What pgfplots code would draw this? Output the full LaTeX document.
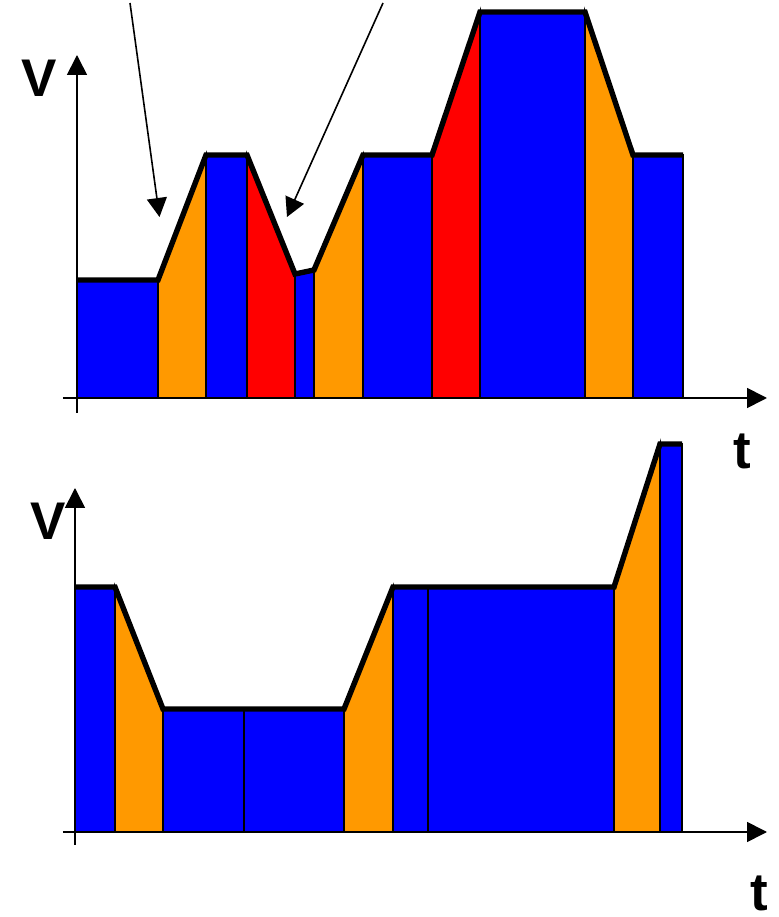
\documentclass[border=0pt]{standalone}
\usepackage{fontspec}
\setmainfont{Liberation Sans}
\usepackage{pgfplots}
\pgfplotsset{compat=1.18}
\usetikzlibrary{arrows.meta}

\definecolor{segblue}{RGB}{0,0,255}
\definecolor{segorange}{RGB}{255,153,0}
\definecolor{segred}{RGB}{255,0,0}

\pgfplotsset{
  profile/.style={
    x=0.5pt, y=0.5pt, anchor=south west,
    axis lines=middle, enlargelimits=false, clip=false,
    xtick=\empty, ytick=\empty,
    axis line style={line width=0.85pt, -{Triangle[length=10pt,width=10pt]}},
    every inner x axis line/.append style={-{Triangle[length=10pt,width=10pt]}},
    every inner y axis line/.append style={-{Triangle[length=10pt,width=10pt]}},
  },
  seg/.style={fill=#1, draw=black, line width=0.9pt},
  speed/.style={draw=black, line width=2.7pt, line join=miter},
}

\tikzset{bigletter/.style={font=\fontsize{26.5}{27}\selectfont\bfseries, inner sep=0pt, anchor=base}}

\begin{document}
\begin{tikzpicture}
\useasboundingbox (0,0) rectangle (389pt,458.5pt);

% upper speed profile
\begin{axis}[profile, at={(31.5pt,252pt)},
  xmin=-14, xmax=690, ymin=-15, ymax=343]
  \addplot[seg=segblue]   coordinates {(0,0) (0,118) (81,118) (81,0)} -- cycle;
  \addplot[seg=segorange] coordinates {(81,0) (81,118) (129,243) (129,0)} -- cycle;
  \addplot[seg=segblue]   coordinates {(129,0) (129,243) (170,243) (170,0)} -- cycle;
  \addplot[seg=segred]    coordinates {(170,0) (170,243) (218,124) (218,0)} -- cycle;
  \addplot[seg=segblue]   coordinates {(218,0) (218,124) (237,128) (237,0)} -- cycle;
  \addplot[seg=segorange] coordinates {(237,0) (237,128) (286,243) (286,0)} -- cycle;
  \addplot[seg=segblue]   coordinates {(286,0) (286,243) (355,243) (355,0)} -- cycle;
  \addplot[seg=segred]    coordinates {(355,0) (355,243) (403,386) (403,0)} -- cycle;
  \addplot[seg=segblue]   coordinates {(403,0) (403,386) (508,386) (508,0)} -- cycle;
  \addplot[seg=segorange] coordinates {(508,0) (508,386) (556,243) (556,0)} -- cycle;
  \addplot[seg=segblue]   coordinates {(556,0) (556,243) (606,243) (606,0)} -- cycle;
  \addplot[speed] coordinates {(0,118) (81,118) (129,243) (170,243) (218,124)
    (237,128) (286,243) (355,243) (403,386) (508,386) (556,243) (606,243)};
\end{axis}

% lower speed profile
\begin{axis}[profile, at={(31.5pt,36pt)},
  xmin=-12, xmax=692, ymin=-13, ymax=344]
  \addplot[seg=segblue]   coordinates {(0,0) (0,245) (40,245) (40,0)} -- cycle;
  \addplot[seg=segorange] coordinates {(40,0) (40,245) (88,123) (88,0)} -- cycle;
  \addplot[seg=segblue]   coordinates {(88,0) (88,123) (169,123) (169,0)} -- cycle;
  \addplot[seg=segblue]   coordinates {(169,0) (169,123) (269,123) (269,0)} -- cycle;
  \addplot[seg=segorange] coordinates {(269,0) (269,123) (318,245) (318,0)} -- cycle;
  \addplot[seg=segblue]   coordinates {(318,0) (318,245) (353,245) (353,0)} -- cycle;
  \addplot[seg=segblue]   coordinates {(353,0) (353,245) (539,245) (539,0)} -- cycle;
  \addplot[seg=segorange] coordinates {(539,0) (539,245) (585,388) (585,0)} -- cycle;
  \addplot[seg=segblue]   coordinates {(585,0) (585,388) (607,388) (607,0)} -- cycle;
  \addplot[speed] coordinates {(0,245) (40,245) (88,123) (169,123) (269,123)
    (318,245) (353,245) (539,245) (585,388) (607,388)};
\end{axis}

% axis letters
\node[bigletter] at (19.75pt,410pt) {V};
\node[bigletter] at (24pt,188.5pt) {V};
\node[bigletter] at (371pt,224pt) {t};
\node[bigletter] at (379.5pt,3pt) {t};

% pointer arrows
\draw[line width=0.8pt, -{Triangle[length=9.5pt,width=10pt]}] (65pt,457pt) -- (79.75pt,350pt);
\draw[line width=0.8pt, -{Triangle[length=9.5pt,width=10pt]}] (191.5pt,457pt) -- (143.5pt,350pt);
\end{tikzpicture}
\end{document}
